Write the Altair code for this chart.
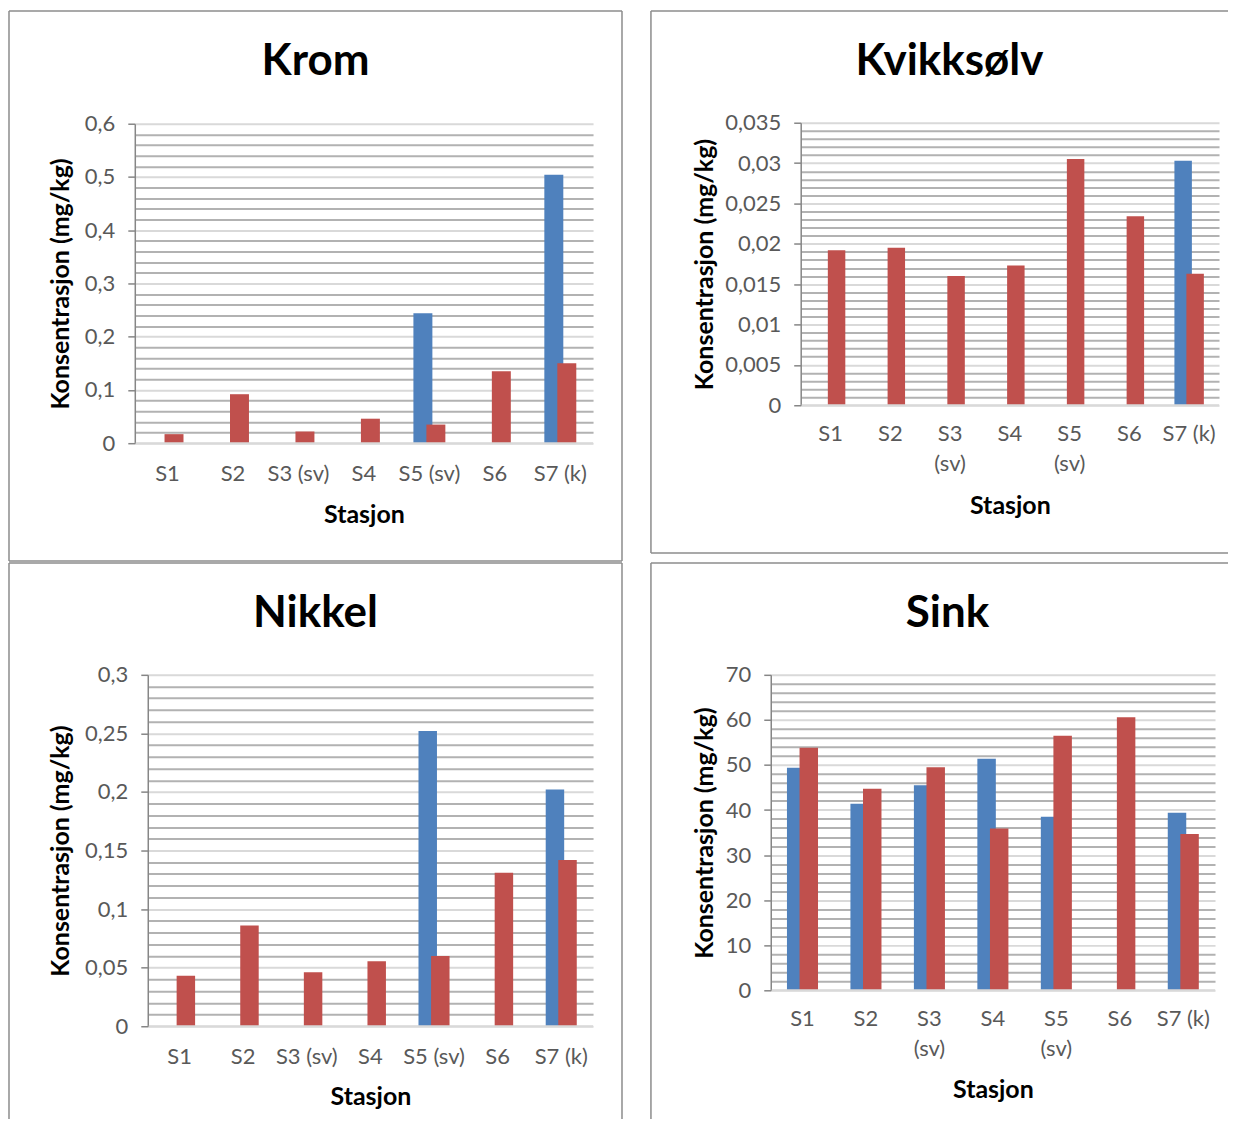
import altair as alt
import pandas as pd

# ---------------- data ----------------
stations = ["S1", "S2", "S3 (sv)", "S4", "S5 (sv)", "S6", "S7 (k)"]

krom_blue = [None, None, None, None, 0.244, None, 0.504]
krom_red = [0.017, 0.092, 0.022, 0.046, 0.035, 0.135, 0.150]

kvikk_blue = [None, None, None, None, None, None, 0.0303]
kvikk_red = [0.0192, 0.0195, 0.0160, 0.0173, 0.0305, 0.0234, 0.0163]

nikkel_blue = [None, None, None, None, 0.252, None, 0.202]
nikkel_red = [0.043, 0.086, 0.046, 0.0555, 0.060, 0.131, 0.142]

sink_blue = [49.4, 41.4, 45.5, 51.4, 38.5, None, 39.4]
sink_red = [53.8, 44.7, 49.5, 35.9, 56.5, 60.6, 34.7]

titles = ["Krom", "Kvikksølv", "Nikkel", "Sink"]
y_title = "Konsentrasjon (mg/kg)"
x_title = "Stasjon"

# ---------------- style ----------------
FONT = "Lato"
BLUE = "#4F81BD"
RED = "#C0504D"
GRID_MAJOR = "#D9D9D9"
GRID_MINOR = "#B2B2B2"
AXIS_GREY = "#868686"
BORDER = "#8C8C8C"
LABEL = "#595959"

one = pd.DataFrame({"d": [0]})


def build_frame(blue, red):
    rows = []
    for s, b, r in zip(stations, blue, red):
        if b is not None:
            rows.append({"Stasjon": s, "Serie": "Serie 1", "Verdi": b})
        if r is not None:
            rows.append({"Stasjon": s, "Serie": "Serie 2", "Verdi": r})
    return pd.DataFrame(rows)


def panel(title, blue, red, ymax, major, minor, bw, bh, xr, yr, bar_w, off,
          title_xy, ytitle_x, xtitle_y, label_pad, two_line, sides):
    """bw,bh: panel (box) size; xr=(left,right), yr=(top,bottom) of the plot area in box coords."""
    df = build_frame(blue, red)
    n = int(round(ymax / minor))
    vals = [round(i * minor, 10) for i in range(n + 1)]
    is_major = f"abs(datum.value/{major} - round(datum.value/{major})) < 1e-6"
    ph = yr[1] - yr[0]

    y_axis = alt.Axis(
        values=vals, format="~g", offset=-xr[0],
        labelExpr=f"({is_major}) ? replace(datum.label, '.', ',') : ''",
        labelOverlap=False, labelFlush=False,
        grid=True,
        gridColor={"condition": {"test": is_major, "value": GRID_MAJOR}, "value": GRID_MINOR},
        gridWidth=2,
        domainColor=AXIS_GREY, domainWidth=1.5,
        tickColor=AXIS_GREY, tickWidth=1.5, tickSize=7,
        tickOpacity={"condition": {"test": is_major, "value": 1}, "value": 0},
        labelFont=FONT, labelFontSize=22, labelColor=LABEL, labelPadding=13,
        title=y_title, titleFont=FONT, titleFontSize=25, titleFontWeight="bold",
        titleColor="black", titleAngle=-90, titleX=ytitle_x, titleY=yr[0] + ph / 2,
        titleAlign="center", titleBaseline="middle",
    )
    if two_line:
        lexpr = "indexof(datum.label, '(sv)') > 0 ? split(datum.label, ' ') : datum.label"
    else:
        lexpr = "datum.label"
    x_axis = alt.Axis(
        offset=yr[1] - bh,
        labelAngle=0, domain=False, ticks=False, tickSize=0, grid=False,
        labelPadding=label_pad, labelExpr=lexpr, labelLineHeight=30,
        labelOverlap=False, labelFont=FONT, labelFontSize=22, labelColor=LABEL,
        labelBaseline="top",
        title=x_title, titleFont=FONT, titleFontSize=25, titleFontWeight="bold",
        titleColor="black", titleY=xtitle_y, titleBaseline="middle",
        titleX=(xr[0] + xr[1]) / 2,
    )
    x_scale = alt.Scale(domain=stations, range=[xr[0], xr[1]],
                        paddingInner=0, paddingOuter=0)
    y_scale = alt.Scale(domain=[0, ymax], range=[yr[1], yr[0]], nice=False, zero=True)
    x = alt.X("Stasjon:N", sort=stations, scale=x_scale, axis=x_axis)
    y = alt.Y("Verdi:Q", scale=y_scale, axis=y_axis)

    base = alt.Chart(df)
    blue_bars = base.transform_filter("datum.Serie == 'Serie 1'").mark_bar(
        width=bar_w, xOffset=-off, y2Offset=2, color=BLUE).encode(x=x, y=y)
    red_bars = base.transform_filter("datum.Serie == 'Serie 2'").mark_bar(
        width=bar_w, xOffset=off, y2Offset=2, color=RED).encode(x=x, y=y)
    # light baseline drawn over the bar feet, as in the original
    zero_line = alt.Chart(one).mark_rule(color=GRID_MAJOR, strokeWidth=2).encode(
        y=alt.value(yr[1]), x=alt.value(xr[0] + 1), x2=alt.value(xr[1]))

    edge_coords = {
        "left": (0, 0, 0, bh),
        "right": (bw, bw, 0, bh),
        "top": (0, bw, 0, 0),
        "bottom": (0, bw, bh, bh),
    }
    layers = []
    for s in sides:
        ex1, ex2, ey1, ey2 = edge_coords[s]
        layers.append(alt.Chart(one).mark_rule(color=BORDER, strokeWidth=1.5).encode(
            x=alt.value(ex1), x2=alt.value(ex2), y=alt.value(ey1), y2=alt.value(ey2)))
    ttl = alt.Chart(one).mark_text(
        text=title, font=FONT, fontSize=44, fontWeight="bold", color="black",
        align="center", baseline="middle").encode(
        x=alt.value(title_xy[0]), y=alt.value(title_xy[1]))
    layers += [blue_bars, red_bars, zero_line, ttl]
    return alt.layer(*layers).properties(
        width=bw, height=bh,
        view=alt.ViewBackground(stroke="transparent", strokeWidth=0))


# panel boxes (page px): P1 x 8-622 y 12-563 ; P2 x 651-1229 y 12-555
#                        P3 x 8-622 y 565-1122 ; P4 x 651-1229 y 565-1122
p1 = panel(titles[0], krom_blue, krom_red, 0.6, 0.1, 0.02, 614, 551,
           (126, 585), (113, 433), 19, 6.5,
           (307, 51), -74, 71, 20, False, ["left", "top", "right", "bottom"])

p2 = panel(titles[1], kvikk_blue, kvikk_red, 0.035, 0.005, 0.001, 578, 543,
           (150, 569), (112, 395), 17.5, 6,
           (299, 51), -96, 100, 18, True, ["left", "top", "bottom"])

p3 = panel(titles[2], nikkel_blue, nikkel_red, 0.3, 0.05, 0.01, 614, 557,
           (139, 585), (112, 464), 18.5, 6.3,
           (307, 51), -87, 70, 20, False, ["left", "top", "right"])

p4 = panel(titles[3], sink_blue, sink_red, 70, 10, 2, 578, 557,
           (120, 565), (112, 428), 18.5, 6.3,
           (297, 51), -66, 99, 18, True, ["left", "top"])

chart = alt.concat(p1, p2, p3, p4, columns=2, bounds="flush",
                   spacing={"row": 2, "column": 29}).properties(
    padding={"left": 0, "top": 1, "right": 0, "bottom": 0}
).configure_view(stroke="transparent", strokeWidth=0).configure(background="white")

chart.save("out.html", embed_options={"renderer": "svg", "actions": False})
